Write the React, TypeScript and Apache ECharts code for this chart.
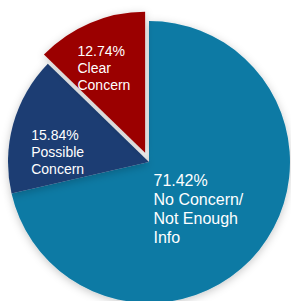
import React, { useEffect, useRef } from "react";
import * as echarts from "echarts";

// Data
const categories = ["No Concern/\nNot Enough\nInfo", "Possible\nConcern", "Clear\nConcern"];
const percentages = [71.42, 15.84, 12.74];
const exploded = [false, false, true];

// Styling (kept apart from the data)
const sliceColors = ["#0A7AA4", "#1B3E73", "#9B0000"];
const labelFontSizes = [16, 14, 14];
const labelLineHeights = [19, 17, 17];
const labelNudges = [
  { dx: -53, dy: 1 },
  { dx: -47, dy: 10 },
  { dx: -39, dy: -17 },
];

export default function App() {
  const ref = useRef<HTMLDivElement>(null);

  useEffect(() => {
    if (!ref.current) return;
    const chart = echarts.init(ref.current, undefined, { renderer: "svg" });
    chart.setOption({
      animation: false,
      backgroundColor: "#ffffff",
      series: [
        {
          type: "pie",
          center: [149, 162],
          radius: [0, 141],
          startAngle: 90,
          clockwise: true,
          selectedMode: "multiple",
          selectedOffset: 10,
          avoidLabelOverlap: false,
          emphasis: { disabled: true },
          itemStyle: {
            borderWidth: 0,
            shadowBlur: 8,
            shadowColor: "rgba(0,0,0,0.22)",
            shadowOffsetX: 0,
            shadowOffsetY: 2,
          },
          label: {
            show: true,
            position: "inside",
            color: "#ffffff",
            fontFamily: "'Liberation Sans', Arial, sans-serif",
            formatter: (p: any) => `${p.value.toFixed(2)}%\n${p.name}`,
          },
          labelLine: { show: false },
          labelLayout: (p: any) => ({
            dx: labelNudges[p.dataIndex].dx,
            dy: labelNudges[p.dataIndex].dy,
            align: "left",
            verticalAlign: "middle",
          }),
          data: categories.map((name, i) => ({
            name,
            value: percentages[i],
            selected: exploded[i],
            itemStyle: { color: sliceColors[i] },
            label: {
              fontSize: labelFontSizes[i],
              lineHeight: labelLineHeights[i],
            },
          })),
        },
      ],
    });
    return () => chart.dispose();
  }, []);

  return (
    <div
      ref={ref}
      style={{ position: "absolute", left: 0, top: 0, width: 291, height: 301 }}
    />
  );
}
